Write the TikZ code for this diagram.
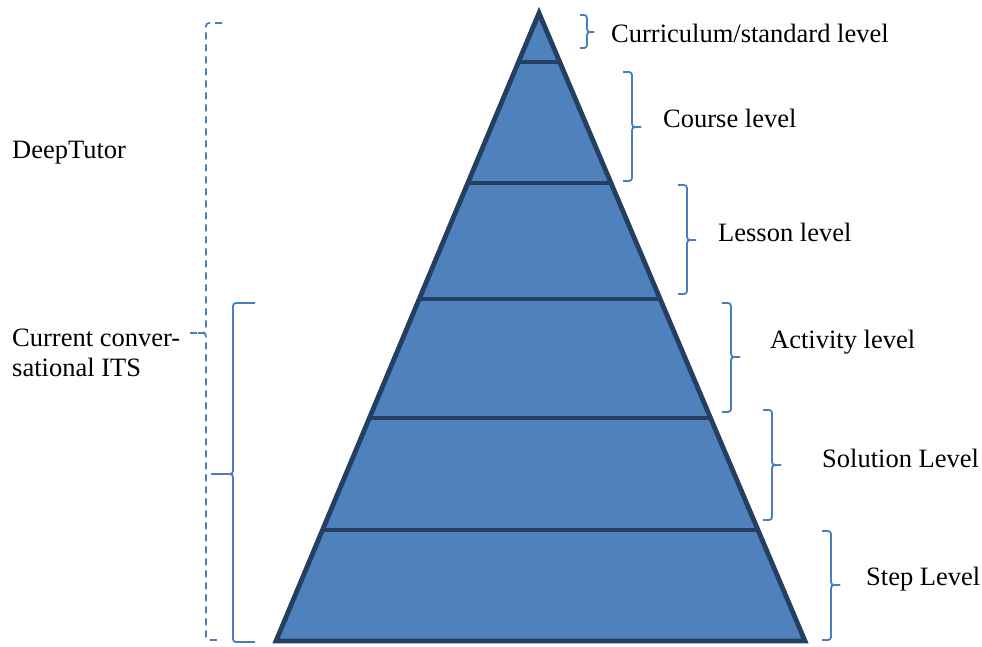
\documentclass[tikz,border=0pt]{standalone}
\usepackage{fontspec}
\setmainfont{Liberation Serif}
\usetikzlibrary{calc}
\definecolor{pyfill}{HTML}{4F81BD}
\definecolor{pyline}{HTML}{243F60}
\definecolor{brc}{HTML}{4A7EBB}
\tikzset{
  lbl/.style={anchor=west, inner sep=0pt, font=\fontsize{26.5}{30}\selectfont},
  brace/.style={draw=brc, line width=1.8pt, rounded corners=3pt},
  dbrace/.style={brace, dashed, dash pattern=on 7pt off 5pt},
  divider/.style={draw=pyline, line width=4.5pt},
}
\begin{document}
\begin{tikzpicture}[x=1pt,y=-1pt]
\useasboundingbox (0,0) rectangle (982,646);
% pyramid
\coordinate (apex) at (539,13);
\coordinate (bl) at (276,641);
\coordinate (br) at (805,641);
\fill[pyfill] (apex) -- (br) -- (bl) -- cycle;
\foreach \t in {0.0780,0.2707,0.4554,0.6449,0.8232}{
  \draw[divider] ($(apex)!\t!(bl)$) -- ($(apex)!\t!(br)$);
}
\draw[pyline, line width=4.8pt, line join=miter] (apex) -- (br) -- (bl) -- cycle;
% right labels
\node[lbl] (l1) at (611,33) {Curriculum/standard level};
\node[lbl] (l2) at (663,118) {Course level};
\node[lbl] (l3) at (718,232) {Lesson level};
\node[lbl] (l4) at (770,342) {Activity level};
\node[lbl] (l5) at (822,458) {Solution Level};
\node[lbl] (l6) at (866,579) {Step Level};
% right braces
\draw[brace] (580,15) -- (587,15) -- (587,32) -- (594,32);
\draw[brace] (594,32) -- (587,32) -- (587,48) -- (580,48);
\draw[brace] (623,72) -- (632,72) -- (632,127) -- (641,127);
\draw[brace] (641,127) -- (632,127) -- (632,181) -- (623,181);
\draw[brace] (678,185) -- (687,185) -- (687,240) -- (696,240);
\draw[brace] (696,240) -- (687,240) -- (687,294) -- (678,294);
\draw[brace] (722,303) -- (731,303) -- (731,357) -- (740,357);
\draw[brace] (740,357) -- (731,357) -- (731,412) -- (722,412);
\draw[brace] (763,410) -- (772,410) -- (772,465) -- (781,465);
\draw[brace] (781,465) -- (772,465) -- (772,520) -- (763,520);
\draw[brace] (822,531) -- (831,531) -- (831,585) -- (840,585);
\draw[brace] (840,585) -- (831,585) -- (831,640) -- (822,640);
% left labels
\node[lbl] (dt) at (12,153) {DeepTutor};
\node[lbl, align=left] (cur) at (12,353) {Current conver-\\sational ITS};
% left dashed brace
\draw[dbrace] (222,23) -- (206,23) -- (206,333) -- (190,333);
\draw[dbrace] (190,333) -- (206,333) -- (206,640) -- (222,640);
% left solid brace
\draw[brace] (255,303) -- (233,303) -- (233,474) -- (211,474);
\draw[brace] (211,474) -- (233,474) -- (233,642) -- (255,642);
\end{tikzpicture}
\end{document}
